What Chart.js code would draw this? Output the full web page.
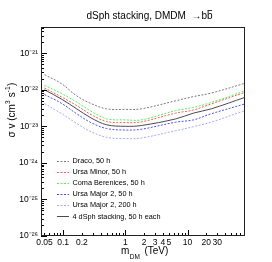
<!DOCTYPE html>
<html>
<head>
<meta charset="utf-8">
<script src="https://cdn.jsdelivr.net/npm/chart.js@4.4.0/dist/chart.umd.min.js"></script>
<style>
  html, body { margin: 0; padding: 0; background: #fff; }
  #wrap { width: 272px; height: 262px; }
</style>
</head>
<body>
<div id="wrap"><canvas id="limits" width="272" height="262"></canvas></div>
<script>
// Dark matter mass (TeV) and the sigma-v upper limits (cm^3 s^-1)
const massTeV = [0.05, 0.095, 0.165, 0.28, 0.5, 1, 1.8, 6.5, 12.5, 24, 84];
const draco50 = [2.6e-22, 1.45e-22, 6.8e-23, 4.2e-23, 3.0e-23, 2.9e-23, 3.0e-23, 5.0e-23, 6.5e-23, 8.1e-23, 1.5e-22];
const ursaMinor50 = [1.12e-22, 6.3e-23, 3.7e-23, 2.1e-23, 1.35e-23, 1.26e-23, 1.32e-23, 2.3e-23, 2.8e-23, 4.1e-23, 8.5e-23];
const comaBer50 = [1.32e-22, 7.8e-23, 4.6e-23, 2.6e-23, 1.6e-23, 1.5e-23, 1.5e-23, 2.7e-23, 3.3e-23, 4.5e-23, 9.3e-23];
const ursaMajor2_50 = [7.4e-23, 4.2e-23, 2.2e-23, 1.26e-23, 8.7e-24, 7.9e-24, 8.3e-24, 1.3e-23, 1.5e-23, 2.2e-23, 4.1e-23];
const ursaMajor2_200 = [4.2e-23, 2.2e-23, 1.2e-23, 7.1e-24, 5.0e-24, 4.6e-24, 4.8e-24, 7.6e-24, 9.8e-24, 1.3e-23, 2.7e-23];
const stacking50 = [1.0e-22, 5.5e-23, 3.0e-23, 1.7e-23, 1.1e-23, 1.0e-23, 1.05e-23, 1.6e-23, 2.3e-23, 3.0e-23, 6.2e-23];

const seriesLabels = ['Draco, 50 h', 'Ursa Minor, 50 h', 'Coma Berenices, 50 h',
  'Ursa Major 2, 50 h', 'Ursa Major 2, 200 h', '4 dSph stacking, 50 h each'];

// tick labels
const xTickValues = [0.05, 0.1, 0.2, 1, 2, 3, 4, 5, 10, 20, 30];
const xTickText = ['0.05', '0.1', '0.2', '1', '2', '3', '4', '5', '10', '20', '30'];
const yTickValues = [1e-26, 1e-25, 1e-24, 1e-23, 1e-22, 1e-21];
const yTickText = ['10\u207B\u00B2\u2076', '10\u207B\u00B2\u2075', '10\u207B\u00B2\u2074',
  '10\u207B\u00B2\u00B3', '10\u207B\u00B2\u00B2', '10\u207B\u00B2\u00B9'];

const FONT = "'Liberation Sans', Arial, sans-serif";

function logTicks(lo, hi, min, max) {
  const out = [];
  for (let e = lo; e <= hi; e++) {
    for (let m = 1; m <= 9; m++) {
      const v = parseFloat((m * Math.pow(10, e)).toPrecision(6));
      if (v >= min * 0.999 && v <= max * 1.001) out.push({ value: v });
    }
  }
  return out;
}

function labelFor(values, texts, v) {
  const i = values.findIndex(k => Math.abs(k - v) / k < 1e-6);
  return i < 0 ? '' : texts[i];
}

function isDecade(v) {
  const e = Math.log10(v);
  return Math.abs(e - Math.round(e)) < 1e-6;
}

function series(label, values, color, dash, width) {
  return {
    label: label,
    data: massTeV.map((m, i) => ({ x: m, y: values[i] })),
    borderColor: color,
    borderDash: dash,
    borderWidth: width,
    pointRadius: 0,
    fill: false,
    tension: 0.35
  };
}

// inward ROOT-style ticks, frame and x tick labels
const frameTicks = {
  id: 'frameTicks',
  afterDatasetsDraw(chart) {
    const { ctx, chartArea: a, scales: { x, y } } = chart;
    ctx.save();
    ctx.strokeStyle = '#000';
    ctx.lineWidth = 1;
    ctx.beginPath();
    x.ticks.forEach(t => {
      const px = Math.round(x.getPixelForValue(t.value)) + 0.5;
      const len = isDecade(t.value) ? 6 : 3;
      ctx.moveTo(px, a.bottom);
      ctx.lineTo(px, a.bottom - len);
    });
    y.ticks.forEach(t => {
      const py = Math.round(y.getPixelForValue(t.value)) + 0.5;
      const len = isDecade(t.value) ? 6 : 3;
      ctx.moveTo(a.left, py);
      ctx.lineTo(a.left + len, py);
    });
    ctx.stroke();
    ctx.strokeStyle = '#222';
    ctx.strokeRect(Math.round(a.left) + 0.5, Math.round(a.top) + 0.5,
      Math.round(a.right - a.left) - 1, Math.round(a.bottom - a.top) - 1);

    ctx.fillStyle = '#000';
    ctx.font = '8.5px ' + FONT;
    ctx.textAlign = 'center';
    ctx.textBaseline = 'top';
    xTickValues.forEach((v, i) => {
      ctx.fillText(xTickText[i], x.getPixelForValue(v), a.bottom + 2);
    });
    ctx.restore();
  }
};

// legend inside the frame, lower left
const innerLegend = {
  id: 'innerLegend',
  afterDraw(chart) {
    const ctx = chart.ctx;
    ctx.save();
    ctx.font = '7.3px ' + FONT;
    ctx.textBaseline = 'middle';
    ctx.fillStyle = '#000';
    chart.data.datasets.forEach((ds, i) => {
      const yy = 160.5 + i * 11.1;
      ctx.strokeStyle = ds.borderColor;
      ctx.lineWidth = ds.borderWidth;
      ctx.setLineDash(ds.borderDash || []);
      ctx.beginPath();
      ctx.moveTo(57, Math.round(yy) + 0.5);
      ctx.lineTo(69, Math.round(yy) + 0.5);
      ctx.stroke();
      ctx.setLineDash([]);
      ctx.fillText(ds.label, 72.5, yy + 0.5);
    });
    ctx.restore();
  }
};

// title and axis titles with sub/superscripts
const titles = {
  id: 'titles',
  afterDraw(chart) {
    const ctx = chart.ctx;
    ctx.save();
    ctx.fillStyle = '#000';
    ctx.textBaseline = 'alphabetic';
    // title
    ctx.font = '10px ' + FONT;
    const t1 = 'dSph stacking, DMDM  \u2192b';
    const w1 = ctx.measureText(t1).width;
    const wb = ctx.measureText('b').width;
    const x0 = 149.5 - (w1 + wb) / 2;
    ctx.fillText(t1, x0, 19);
    ctx.fillText('b', x0 + w1, 19);
    ctx.strokeStyle = '#000';
    ctx.lineWidth = 0.8;
    ctx.beginPath();
    ctx.moveTo(x0 + w1 + 0.5, 10.5);
    ctx.lineTo(x0 + w1 + wb - 0.5, 10.5);
    ctx.stroke();

    // x title: m_DM (TeV)
    ctx.font = '10px ' + FONT;
    let xx = 121;
    ctx.fillText('m', xx, 254);
    xx += ctx.measureText('m').width;
    ctx.font = '6.5px ' + FONT;
    ctx.fillText('DM', xx + 0.5, 259);
    xx += ctx.measureText('DM').width + 3;
    ctx.font = '10px ' + FONT;
    ctx.fillText('(TeV)', xx + 2, 254);

    // y title: sigma v (cm^3 s^-1), rotated
    const parts = [['\u03C3 v (cm', 10, 0], ['3', 6.5, -5], [' s', 10, 0], ['-1', 6.5, -5], [')', 10, 0]];
    let total = 0;
    parts.forEach(([s, size]) => {
      ctx.font = size + 'px ' + FONT;
      total += ctx.measureText(s).width + (size < 10 ? 0.5 : 0);
    });
    ctx.translate(14.5, 110 + total / 2);
    ctx.rotate(-Math.PI / 2);
    let p = 0;
    parts.forEach(([s, size, dy]) => {
      ctx.font = size + 'px ' + FONT;
      ctx.fillText(s, p, dy);
      p += ctx.measureText(s).width + (size < 10 ? 0.5 : 0);
    });
    ctx.restore();
  }
};

const ctx = document.getElementById('limits').getContext('2d');
new Chart(ctx, {
  type: 'line',
  data: {
    datasets: [
      series(seriesLabels[0], draco50, '#7c7c7c', [2, 1.5], 1),
      series(seriesLabels[1], ursaMinor50, '#ff5c5c', [2, 1.5], 1),
      series(seriesLabels[2], comaBer50, '#55f055', [2, 1.5], 1),
      series(seriesLabels[3], ursaMajor2_50, '#4f4fff', [2, 1.5], 1),
      series(seriesLabels[4], ursaMajor2_200, '#a8a8ff', [2, 1.5], 1),
      series(seriesLabels[5], stacking50, '#4a4a4a', [], 1)
    ]
  },
  options: {
    responsive: false,
    animation: false,
    devicePixelRatio: 1,
    layout: { padding: { left: 0, right: 27, top: 27, bottom: 0 } },
    plugins: {
      legend: { display: false },
      tooltip: { enabled: false },
      title: { display: false }
    },
    scales: {
      x: {
        type: 'logarithmic',
        min: 0.044,
        max: 84,
        afterBuildTicks: scale => { scale.ticks = logTicks(-2, 1, 0.044, 84); },
        afterFit: scale => { scale.height = 26; },
        grid: { display: false, drawTicks: false },
        border: { display: false },
        ticks: { display: false, autoSkip: false }
      },
      y: {
        type: 'logarithmic',
        min: 1e-26,
        max: 5.2e-21,
        afterBuildTicks: scale => { scale.ticks = logTicks(-26, -21, 1e-26, 5.2e-21); },
        afterFit: scale => { scale.width = 41; },
        grid: { display: false, drawTicks: false },
        border: { display: false },
        ticks: {
          autoSkip: false,
          padding: 3,
          color: '#000',
          font: { family: FONT, size: 8.5 },
          callback: v => labelFor(yTickValues, yTickText, v)
        }
      }
    }
  },
  plugins: [frameTicks, innerLegend, titles]
});
</script>
</body>
</html>
